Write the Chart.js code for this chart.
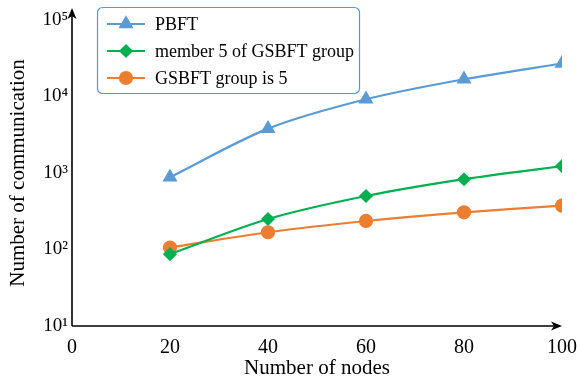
<!DOCTYPE html>
<html>
<head>
<meta charset="utf-8">
<script src="https://cdn.jsdelivr.net/npm/chart.js@4/dist/chart.umd.min.js"></script>
<style>
  html, body { margin: 0; padding: 0; background: #fff; }
  #wrap { width: 577px; height: 383px; position: relative; }
</style>
</head>
<body>
<div id="wrap"><canvas id="c"></canvas></div>
<script>
// Number of nodes in the network
const nodes = [20, 40, 60, 80, 100];

// Communication counts per configuration
const pbft = [880, 3800, 9200, 16800, 27000];
const memberFive = [87, 250, 500, 830, 1230];
const groupFive = [106, 168, 236, 306, 374];

const seriesNames = ['PBFT', 'member 5 of GSBFT group', 'GSBFT group is 5'];

// Axis tick values and their labels
const xTicks = [0, 20, 40, 60, 80, 100];
const yTicks = [10, 100, 1000, 10000, 100000];
const yTickLabels = ['10¹', '10²', '10³', '10⁴', '10⁵'];

const SERIF = '"Liberation Serif", "Times New Roman", serif';
const BLUE = '#5B9BD5', GREEN = '#00B050', ORANGE = '#ED7D31';

function toPoints(ys) { return nodes.map((x, i) => ({ x: x, y: ys[i] })); }

// Axes drawn as arrows
const arrowAxes = {
  id: 'arrowAxes',
  afterDatasetsDraw(chart) {
    const { ctx, chartArea: a } = chart;
    ctx.save();
    ctx.strokeStyle = '#000';
    ctx.fillStyle = '#000';
    ctx.lineWidth = 1.6;
    const topY = a.top - 12;
    ctx.beginPath();
    ctx.moveTo(a.left, a.bottom);
    ctx.lineTo(a.left, topY + 6);
    ctx.moveTo(a.left, a.bottom);
    ctx.lineTo(a.right - 6, a.bottom);
    ctx.stroke();
    // up arrow head
    ctx.beginPath();
    ctx.moveTo(a.left, topY);
    ctx.lineTo(a.left - 4.5, topY + 11);
    ctx.lineTo(a.left, topY + 8);
    ctx.lineTo(a.left + 4.5, topY + 11);
    ctx.closePath();
    ctx.fill();
    // right arrow head
    const rx = a.right;
    ctx.beginPath();
    ctx.moveTo(rx, a.bottom);
    ctx.lineTo(rx - 11, a.bottom - 4.5);
    ctx.lineTo(rx - 8, a.bottom);
    ctx.lineTo(rx - 11, a.bottom + 4.5);
    ctx.closePath();
    ctx.fill();
    ctx.restore();
  }
};

// Boxed legend in the upper left
const boxLegend = {
  id: 'boxLegend',
  afterDraw(chart) {
    const { ctx } = chart;
    const bx = 97.5, by = 7.5, bw = 262, bh = 86, r = 5;
    ctx.save();
    ctx.fillStyle = '#fff';
    ctx.strokeStyle = '#4A9DDB';
    ctx.lineWidth = 1.2;
    ctx.beginPath();
    ctx.roundRect(bx, by, bw, bh, r);
    ctx.fill();
    ctx.stroke();
    const rows = [24, 51, 78];
    chart.data.datasets.forEach((ds, i) => {
      const y = rows[i];
      ctx.strokeStyle = ds.borderColor;
      ctx.lineWidth = 2.2;
      ctx.beginPath();
      ctx.moveTo(107, y);
      ctx.lineTo(145, y);
      ctx.stroke();
      ctx.fillStyle = ds.pointBackgroundColor;
      ctx.strokeStyle = ds.pointBackgroundColor;
      Chart.helpers.drawPoint(ctx, {
        pointStyle: ds.pointStyle,
        radius: ds.pointRadius,
        rotation: 0,
        borderWidth: 1
      }, 126, y);
      ctx.fillStyle = '#000';
      ctx.font = '18px ' + SERIF;
      ctx.textBaseline = 'middle';
      ctx.textAlign = 'left';
      ctx.fillText(ds.label, 155, y + 1);
    });
    ctx.restore();
  }
};

function series(label, data, color, style, radius) {
  return {
    label: label,
    data: toPoints(data),
    borderColor: color,
    backgroundColor: color,
    pointBackgroundColor: color,
    pointBorderColor: color,
    pointStyle: style,
    pointRadius: radius,
    pointHoverRadius: radius,
    borderWidth: 2.2,
    tension: 0.3,
    fill: false
  };
}

new Chart(document.getElementById('c'), {
  type: 'line',
  data: {
    datasets: [
      series(seriesNames[0], pbft, BLUE, 'triangle', 6.5),
      series(seriesNames[1], memberFive, GREEN, 'rectRot', 5.5),
      series(seriesNames[2], groupFive, ORANGE, 'circle', 6)
    ]
  },
  options: {
    responsive: true,
    maintainAspectRatio: false,
    animation: false,
    layout: { padding: { top: 20, right: 15, left: 0, bottom: 0 } },
    plugins: { legend: { display: false }, tooltip: { enabled: false } },
    scales: {
      x: {
        type: 'linear',
        min: 0,
        max: 100,
        grid: { display: false, drawTicks: false },
        border: { display: false },
        afterBuildTicks(s) { s.ticks = xTicks.map(v => ({ value: v })); },
        afterFit(s) { s.height = 57; s.paddingLeft = 0; s.paddingRight = 0; },
        ticks: {
          color: '#000',
          padding: 10,
          maxRotation: 0,
          font: { family: SERIF, size: 20 }
        },
        title: {
          display: true,
          text: 'Number of nodes',
          color: '#000',
          padding: { top: 4, bottom: 2 },
          font: { family: SERIF, size: 21 }
        }
      },
      y: {
        type: 'logarithmic',
        min: 10,
        max: 100000,
        grid: { display: false, drawTicks: false },
        border: { display: false },
        afterBuildTicks(s) { s.ticks = yTicks.map(v => ({ value: v })); },
        afterFit(s) { s.width = 72; s.paddingTop = 0; s.paddingBottom = 0; },
        ticks: {
          color: '#000',
          padding: 4,
          font: { family: SERIF, size: 19 },
          callback(v) {
            const i = yTicks.indexOf(v);
            return i >= 0 ? yTickLabels[i] : '';
          }
        },
        title: {
          display: true,
          text: 'Number of communication',
          color: '#000',
          padding: { top: 6, bottom: 4 },
          font: { family: SERIF, size: 21 }
        }
      }
    }
  },
  plugins: [arrowAxes, boxLegend]
});
</script>
</body>
</html>
